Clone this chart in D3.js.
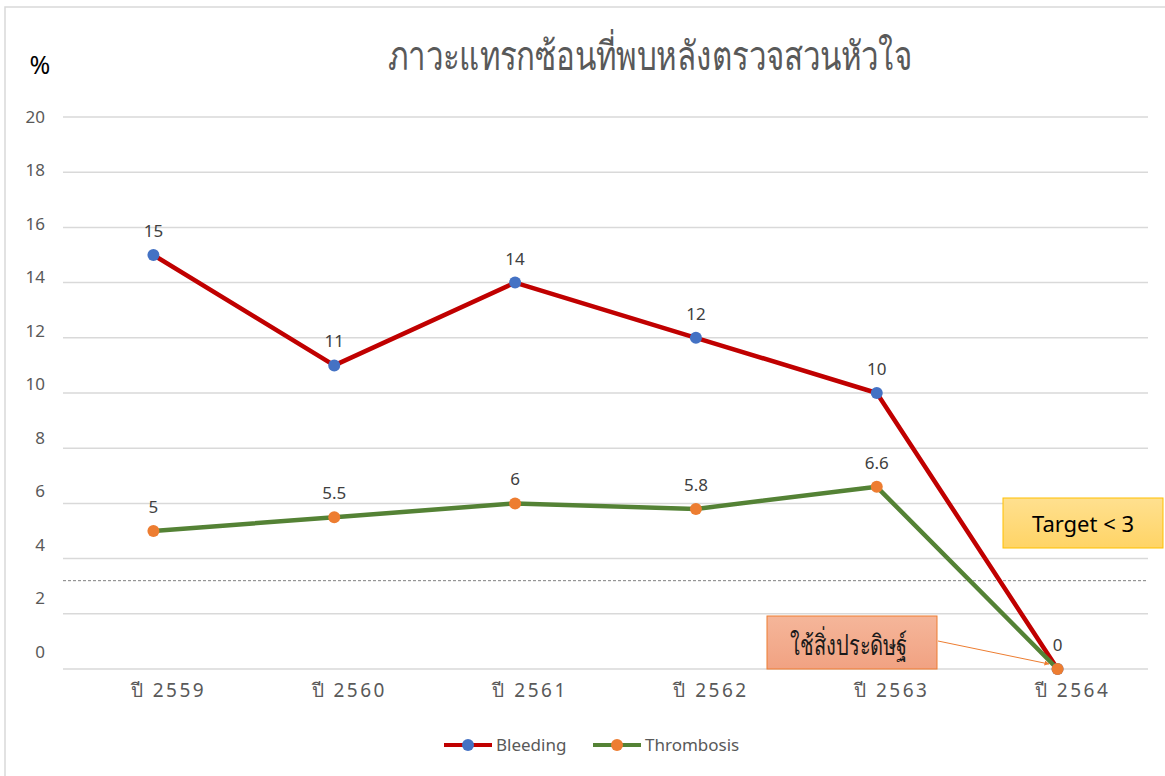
<!DOCTYPE html>
<html>
<head>
<meta charset="utf-8">
<script src="https://cdn.jsdelivr.net/npm/d3@7"></script>
<style>
  body { margin: 0; background: #fff; }
  text { font-family: "Noto Sans", "Open Sans", sans-serif; }
</style>
</head>
<body>
<svg width="1165" height="776"></svg>
<script>
// chart values
var years = ["ปี 2559", "ปี 2560", "ปี 2561", "ปี 2562", "ปี 2563", "ปี 2564"];
var bleeding = [15, 11, 14, 12, 10, 0];
var thrombosis = [5, 5.5, 6, 5.8, 6.6, 0];
var yTicks = [0, 2, 4, 6, 8, 10, 12, 14, 16, 18, 20];
var targetLine = 3.2;

var svg = d3.select("svg");

// frame (left + top edge only visible)
svg.append("path")
    .attr("d", "M5,776 V7 H1165")
    .attr("fill", "none")
    .attr("stroke", "#d9d9d9")
    .attr("stroke-width", 1.5);

var x = d3.scaleBand().domain(years).range([63, 1148]);
var y = d3.scaleLinear().domain([0, 20]).range([669, 117]);
// tick labels sit on a slightly tighter spacing than the gridlines
var yLab = d3.scaleLinear().domain([0, 20]).range([652, 117]);

// gridlines
svg.append("g")
    .selectAll("line")
    .data(yTicks)
    .enter().append("line")
    .attr("x1", 63).attr("x2", 1148)
    .attr("y1", function (d) { return y(d) })
    .attr("y2", function (d) { return y(d) })
    .attr("stroke", "#d9d9d9")
    .attr("stroke-width", 1.5);

var yAxis = svg.append("g")
    .attr("transform", "translate(45,0)")
    .call(d3.axisLeft(yLab).tickValues(yTicks).tickSize(0).tickPadding(0));
yAxis.select(".domain").remove();
yAxis.selectAll("text")
    .attr("font-size", 17)
    .attr("fill", "#595959")
    .style("font-family", "'Noto Sans', sans-serif");

var xAxis = svg.append("g")
    .attr("transform", "translate(15,669)")
    .call(d3.axisBottom(x).tickSize(0).tickPadding(15));
xAxis.select(".domain").remove();
xAxis.selectAll("text")
    .attr("font-size", 19)
    .attr("fill", "#595959")
    .attr("letter-spacing", 2.5)
    .style("font-family", "'Noto Sans', 'DejaVu Sans', sans-serif");

// target dashed line
svg.append("line")
    .attr("x1", 63).attr("x2", 1148)
    .attr("y1", y(targetLine)).attr("y2", y(targetLine))
    .attr("stroke", "#7f7f7f")
    .attr("stroke-width", 1)
    .attr("stroke-dasharray", "3,2");

// title + unit
svg.append("text")
    .attr("x", 650).attr("y", 70)
    .attr("text-anchor", "middle")
    .attr("font-size", 40)
    .attr("fill", "#595959")
    .attr("textLength", 524)
    .attr("lengthAdjust", "spacingAndGlyphs")
    .text("ภาวะแทรกซ้อนที่พบหลังตรวจสวนหัวใจ");

svg.append("text")
    .attr("x", 40).attr("y", 74)
    .attr("text-anchor", "middle")
    .attr("font-size", 25)
    .attr("fill", "#000")
    .text("%");

var line = d3.line()
    .x(function (d, i) { return x(years[i]) + x.bandwidth() / 2 })
    .y(function (d) { return y(d) });

var series = [
    { name: "Bleeding", values: bleeding, color: "#c00000", marker: "#4472c4" },
    { name: "Thrombosis", values: thrombosis, color: "#548235", marker: "#ed7d31" }
];

// annotation arrow (drawn under markers)
svg.append("defs").append("marker")
    .attr("id", "arr")
    .attr("viewBox", "0 0 10 10")
    .attr("refX", 9).attr("refY", 5)
    .attr("markerWidth", 5).attr("markerHeight", 5)
    .attr("orient", "auto")
    .append("path")
    .attr("d", "M0,0 L10,5 L0,10 Z")
    .attr("fill", "#ed7d31");

series.forEach(function (s) {
    svg.append("path")
        .datum(s.values)
        .attr("d", line)
        .attr("fill", "none")
        .attr("stroke", s.color)
        .attr("stroke-width", 4.5)
        .attr("stroke-linejoin", "round");
});

svg.append("line")
    .attr("x1", 938).attr("y1", 641)
    .attr("x2", 1049).attr("y2", 664)
    .attr("stroke", "#ed7d31")
    .attr("stroke-width", 1)
    .attr("marker-end", "url(#arr)");

series.forEach(function (s) {
    svg.append("g")
        .selectAll("circle")
        .data(s.values)
        .enter().append("circle")
        .attr("cx", function (d, i) { return x(years[i]) + x.bandwidth() / 2 })
        .attr("cy", function (d) { return y(d) })
        .attr("r", 6)
        .attr("fill", s.marker);
});

// data labels (bleeding all, thrombosis except last, zero shown once)
svg.append("g")
    .selectAll("text")
    .data(bleeding)
    .enter().append("text")
    .attr("x", function (d, i) { return x(years[i]) + x.bandwidth() / 2 })
    .attr("y", function (d) { return y(d) - 18 })
    .attr("text-anchor", "middle")
    .attr("font-size", 17)
    .attr("fill", "#404040")
    .text(function (d) { return d });

svg.append("g")
    .selectAll("text")
    .data(thrombosis.slice(0, 5))
    .enter().append("text")
    .attr("x", function (d, i) { return x(years[i]) + x.bandwidth() / 2 })
    .attr("y", function (d) { return y(d) - 18 })
    .attr("text-anchor", "middle")
    .attr("font-size", 17)
    .attr("fill", "#404040")
    .text(function (d) { return d });

// Target box
var grad = svg.select("defs").append("linearGradient")
    .attr("id", "gy").attr("x1", 0).attr("x2", 0).attr("y1", 0).attr("y2", 1);
grad.append("stop").attr("offset", "0%").attr("stop-color", "#ffe08f");
grad.append("stop").attr("offset", "100%").attr("stop-color", "#ffd466");

svg.append("rect")
    .attr("x", 1003).attr("y", 498)
    .attr("width", 160).attr("height", 50)
    .attr("fill", "url(#gy)")
    .attr("stroke", "#ffc000")
    .attr("stroke-width", 1);
svg.append("text")
    .attr("x", 1083).attr("y", 532)
    .attr("text-anchor", "middle")
    .attr("font-size", 22)
    .attr("fill", "#000")
    .text("Target < 3");

// invention box
var grad2 = svg.select("defs").append("linearGradient")
    .attr("id", "gp").attr("x1", 0).attr("x2", 0).attr("y1", 0).attr("y2", 1);
grad2.append("stop").attr("offset", "0%").attr("stop-color", "#f5b69a");
grad2.append("stop").attr("offset", "100%").attr("stop-color", "#f1a282");

svg.append("rect")
    .attr("x", 767).attr("y", 616)
    .attr("width", 170).attr("height", 53)
    .attr("fill", "url(#gp)")
    .attr("stroke", "#ed7d31")
    .attr("stroke-width", 1);
svg.append("text")
    .attr("x", 790).attr("y", 655)
    .attr("font-size", 28)
    .attr("font-weight", "normal")
    .attr("fill", "#1a1a1a")
    .attr("textLength", 117)
    .attr("lengthAdjust", "spacingAndGlyphs")
    .text("ใช้สิ่งประดิษฐ์");

// legend
var legend = svg.append("g")
    .selectAll("g")
    .data(series)
    .enter().append("g")
    .attr("transform", function (d, i) { return "translate(" + (444 + i * 149) + ",745)" });
legend.append("line")
    .attr("x1", 0).attr("x2", 48)
    .attr("stroke", function (d) { return d.color })
    .attr("stroke-width", 4);
legend.append("circle")
    .attr("cx", 24).attr("r", 6)
    .attr("fill", function (d) { return d.marker });
legend.append("text")
    .attr("x", 52).attr("y", 6)
    .attr("font-size", 17)
    .attr("fill", "#595959")
    .text(function (d) { return d.name });
</script>
</body>
</html>
